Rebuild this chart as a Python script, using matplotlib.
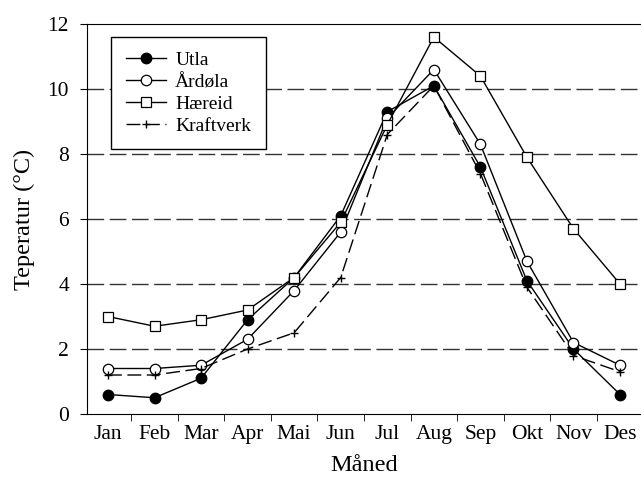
import numpy as np
import matplotlib.pyplot as plt

plt.rcParams['font.family'] = ['Liberation Serif', 'DejaVu Serif']

maaneder = ['Jan', 'Feb', 'Mar', 'Apr', 'Mai', 'Jun', 'Jul', 'Aug', 'Sep', 'Okt', 'Nov', 'Des']
utla = [0.6, 0.5, 1.1, 2.9, 4.2, 6.1, 9.3, 10.1, 7.6, 4.1, 2.0, 0.6]
ardola = [1.4, 1.4, 1.5, 2.3, 3.8, 5.6, 9.1, 10.6, 8.3, 4.7, 2.2, 1.5]
hareid = [3.0, 2.7, 2.9, 3.2, 4.2, 5.9, 8.9, 11.6, 10.4, 7.9, 5.7, 4.0]
kraftverk = [1.2, 1.2, 1.4, 2.0, 2.5, 4.2, 8.6, 10.1, 7.4, 3.9, 1.8, 1.3]

x = np.arange(len(maaneder))

fig = plt.figure(figsize=(6.41, 4.8), dpi=100)
ax = fig.add_axes([87 / 641, 66 / 480, 554 / 641, 390 / 480])

# stiplede hjelpelinjer
for y in [2, 4, 6, 8, 10]:
    ax.axhline(y, color='#333333', lw=1.0, dashes=(12, 4), zorder=1)

ax.plot(x, utla, color='black', lw=1.0, marker='o', ms=7.5,
        mfc='black', mec='black', label='Utla', zorder=3)
ax.plot(x, ardola, color='black', lw=1.0, marker='o', ms=7.5,
        mfc='white', mec='black', mew=0.9, label='Årdøla', zorder=3)
ax.plot(x, hareid, color='black', lw=1.0, marker='s', ms=6.5,
        mfc='white', mec='black', mew=0.9, label='Hæreid', zorder=3)
ax.plot(x, kraftverk, color='black', lw=1.0, dashes=(10, 4), marker='+', ms=6,
        mew=1.0, label='Kraftverk', zorder=3)

ax.set_xlim(-0.45, 11.45)
ax.set_ylim(0, 12)
ax.set_yticks(range(0, 13, 2))
ax.set_xticks(x)
ax.set_xticklabels(maaneder)
ax.set_xticks(x[:-1] + 0.5, minor=True)
ax.tick_params(axis='x', which='major', length=0, pad=8, labelsize=15.5)
ax.tick_params(axis='x', which='minor', length=5, direction='out')
ax.tick_params(axis='y', length=5, direction='out', labelsize=15.5, pad=8)
ax.spines['right'].set_visible(False)

ax.set_xlabel('Måned', fontsize=17.5, labelpad=8)
ax.set_ylabel('Teperatur (°C)', fontsize=17.5, labelpad=9)

leg = ax.legend(loc='upper left', bbox_to_anchor=(24 / 554, 1 - 13 / 390),
                fontsize=14, frameon=True, fancybox=False, edgecolor='black',
                framealpha=1, handlelength=2.1, labelspacing=0.22,
                borderpad=0.75, handletextpad=0.45, borderaxespad=0)
leg.get_frame().set_linewidth(1.0)
leg.set_zorder(5)

plt.savefig('out.png', dpi=100)
